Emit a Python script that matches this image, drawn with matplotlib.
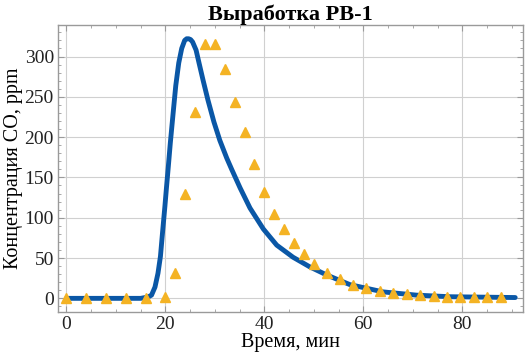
import matplotlib.pyplot as plt
from matplotlib.ticker import MultipleLocator

# экспериментальные точки
t_exp = [0, 4, 8, 12, 16, 20, 22, 24, 26, 28, 30, 32, 34, 36, 38, 40, 42, 44, 46, 48, 50,
         52.6, 55.2, 57.9, 60.6, 63.4, 66.1, 68.8, 71.5, 74.2, 76.9, 79.6, 82.3, 85.0, 87.9]
c_exp = [0, 0, 0, 0, 0, 2, 32, 129, 231, 315, 315, 285, 243, 206, 167, 132, 105, 86, 69, 55, 43,
         32, 24, 16.5, 13, 9.5, 7, 6, 4.5, 3, 2, 2, 1.5, 2, 2]

# расчетная кривая
t_model = [0, 15.0, 15.9, 16.6, 17.2, 17.9, 18.5, 19.0, 19.4, 19.9, 20.2, 20.6, 21.0, 21.6,
           22.1, 22.7, 23.3, 23.9, 24.3, 24.7, 25.1, 25.5, 26.2, 26.8, 27.6, 28.6, 29.8,
           31.0, 32.4, 33.4, 35.1, 37.1, 39.8, 42.5, 45.8, 49.2, 52.6, 57.3, 64, 70.7,
           77.5, 84, 90.7]
c_model = [0, 0, 1, 2, 4, 14, 31, 52, 80, 114, 136, 164, 193, 232,
           264, 292, 310, 320, 322, 322, 321, 318, 308, 292, 271, 246, 219,
           196, 174, 160, 137, 112, 86, 66, 51, 39, 29, 17, 8, 4,
           2, 1.5, 1]

plt.rcParams['font.family'] = ['Liberation Serif', 'DejaVu Serif']

fig = plt.figure(figsize=(5.25, 3.53), dpi=100)
ax = fig.add_axes([0.1105, 0.116, 0.885, 0.813])

ax.plot(t_model, c_model, color='#0a57a6', linewidth=3.5, solid_joinstyle='round',
        solid_capstyle='round', zorder=2)
ax.plot(t_exp, c_exp, linestyle='none', marker='^', markersize=7.5, color='#f4b324', zorder=3)

ax.set_xlim(-1.7, 92.2)
ax.set_ylim(-17, 339)
ax.xaxis.set_major_locator(MultipleLocator(20))
ax.xaxis.set_minor_locator(MultipleLocator(5))
ax.yaxis.set_major_locator(MultipleLocator(50))
ax.yaxis.set_minor_locator(MultipleLocator(10))
ax.grid(True, which='major', color='#d0d0d0', linewidth=0.8)
ax.set_axisbelow(True)

for s in ax.spines.values():
    s.set_color('#9a9a9a')
    s.set_linewidth(1.0)
ax.tick_params(which='both', direction='in', top=True, right=True, color='#9a9a9a',
               labelsize=14, labelcolor='#222222')
ax.tick_params(which='major', length=4, pad=3)
ax.tick_params(which='minor', length=2)

ax.set_title('Выработка РВ-1', fontsize=16, fontweight='bold', pad=4)
ax.set_xlabel('Время, мин', fontsize=14.5, labelpad=0)
ax.set_ylabel('Концентрация CO, ppm', fontsize=14.5, labelpad=1)

fig.savefig('out.png', dpi=100)
